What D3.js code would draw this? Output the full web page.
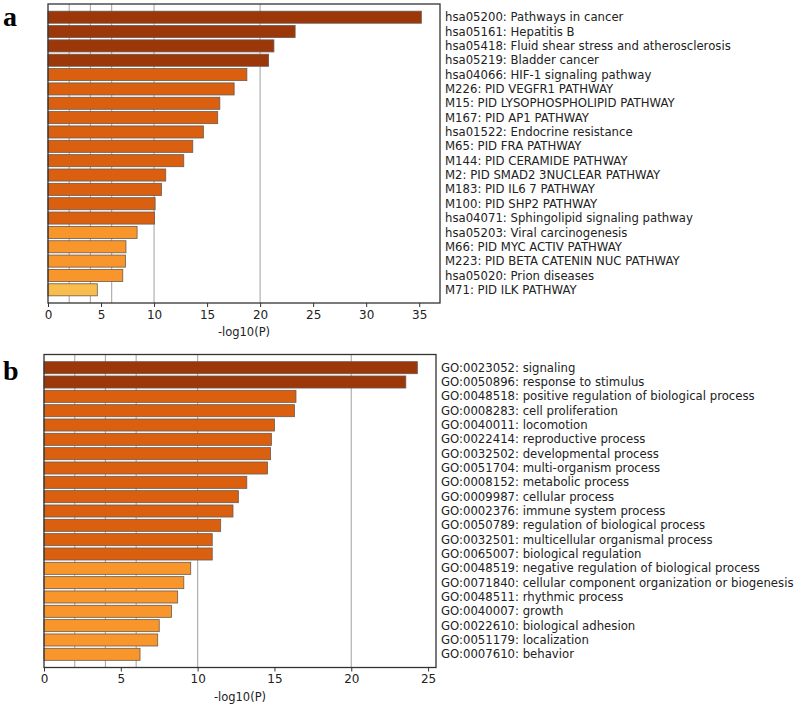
<!DOCTYPE html>
<html>
<head>
<meta charset="utf-8">
<script src="https://cdn.jsdelivr.net/npm/d3@7"></script>
<style>
  body { margin: 0; background: #fff; }
  svg { display: block; }
  text { font-family: "DejaVu Sans", sans-serif; fill: #222; }
  .panel-letter { font-family: "Liberation Serif", "Times New Roman", serif; font-weight: bold; fill: #000; }
</style>
</head>
<body>
<svg id="chart" width="800" height="711"></svg>
<script>
// パネルa: KEGG / PID パスウェイ
const termsA = [
  'hsa05200: Pathways in cancer',
  'hsa05161: Hepatitis B',
  'hsa05418: Fluid shear stress and atherosclerosis',
  'hsa05219: Bladder cancer',
  'hsa04066: HIF-1 signaling pathway',
  'M226: PID VEGFR1 PATHWAY',
  'M15: PID LYSOPHOSPHOLIPID PATHWAY',
  'M167: PID AP1 PATHWAY',
  'hsa01522: Endocrine resistance',
  'M65: PID FRA PATHWAY',
  'M144: PID CERAMIDE PATHWAY',
  'M2: PID SMAD2 3NUCLEAR PATHWAY',
  'M183: PID IL6 7 PATHWAY',
  'M100: PID SHP2 PATHWAY',
  'hsa04071: Sphingolipid signaling pathway',
  'hsa05203: Viral carcinogenesis',
  'M66: PID MYC ACTIV PATHWAY',
  'M223: PID BETA CATENIN NUC PATHWAY',
  'hsa05020: Prion diseases',
  'M71: PID ILK PATHWAY'
];
const valuesA = [35.2, 23.3, 21.3, 20.8, 18.75, 17.55, 16.2, 16.0, 14.65, 13.65,
                 12.8, 11.1, 10.7, 10.1, 10.05, 8.4, 7.35, 7.3, 7.05, 4.65];
const ticksA = [0, 5, 10, 15, 20, 25, 30, 35];

// パネルb: GO 生物学的プロセス
const termsB = [
  'GO:0023052: signaling',
  'GO:0050896: response to stimulus',
  'GO:0048518: positive regulation of biological process',
  'GO:0008283: cell proliferation',
  'GO:0040011: locomotion',
  'GO:0022414: reproductive process',
  'GO:0032502: developmental process',
  'GO:0051704: multi-organism process',
  'GO:0008152: metabolic process',
  'GO:0009987: cellular process',
  'GO:0002376: immune system process',
  'GO:0050789: regulation of biological process',
  'GO:0032501: multicellular organismal process',
  'GO:0065007: biological regulation',
  'GO:0048519: negative regulation of biological process',
  'GO:0071840: cellular component organization or biogenesis',
  'GO:0048511: rhythmic process',
  'GO:0040007: growth',
  'GO:0022610: biological adhesion',
  'GO:0051179: localization',
  'GO:0007610: behavior'
];
const valuesB = [24.3, 23.55, 16.4, 16.3, 15.0, 14.8, 14.75, 14.55, 13.2, 12.65,
                 12.3, 11.5, 10.95, 10.95, 9.55, 9.1, 8.7, 8.3, 7.5, 7.4, 6.25];
const ticksB = [0, 5, 10, 15, 20, 25];

// 縦のグリッド線の位置
const gridValues = [2, 4, 6, 10, 20];

// 値に応じた色（YlOrBr 系）
function barColor(v) {
  if (v >= 20) return '#9b3708';
  if (v >= 10) return '#da600f';
  if (v >= 6) return '#f8962b';
  return '#f9bd4e';
}

const svg = d3.select('#chart');

function drawPanel(terms, values, ticks, box, letter) {
  const g = svg.append('g');

  const x = d3.scaleLinear()
    .domain([0, d3.max(values) * 1.05])
    .range([box.left, box.right]);

  const y = d3.scaleBand()
    .domain(terms)
    .range([box.top, box.bottom])
    .paddingInner(0.16)
    .paddingOuter(0.5);

  // グリッド線
  g.selectAll('line.grid')
    .data(gridValues)
    .enter()
    .append('line')
    .attr('class', 'grid')
    .attr('x1', d => x(d))
    .attr('x2', d => x(d))
    .attr('y1', box.top)
    .attr('y2', box.bottom)
    .attr('stroke', '#b0b0b0')
    .attr('stroke-width', 1.2);

  // バー
  g.selectAll('rect.bar')
    .data(values)
    .enter()
    .append('rect')
    .attr('class', 'bar')
    .attr('x', x(0))
    .attr('y', (d, i) => y(terms[i]))
    .attr('width', d => x(d) - x(0))
    .attr('height', y.bandwidth())
    .attr('fill', d => barColor(d))
    .attr('stroke', '#6a5a50')
    .attr('stroke-width', 0.8);

  // 枠線
  g.append('rect')
    .attr('x', box.left)
    .attr('y', box.top)
    .attr('width', box.right - box.left)
    .attr('height', box.bottom - box.top)
    .attr('fill', 'none')
    .attr('stroke', '#333')
    .attr('stroke-width', 1.3);

  // X軸
  const axis = g.append('g')
    .attr('transform', `translate(0,${box.bottom})`)
    .call(d3.axisBottom(x).tickValues(ticks).tickSize(4).tickPadding(3));
  axis.select('.domain').remove();
  axis.selectAll('line').attr('stroke', '#333');
  axis.selectAll('text')
    .style('font-family', '"DejaVu Sans", sans-serif')
    .style('font-size', '12px')
    .attr('fill', '#222');

  // 軸タイトル
  g.append('text')
    .attr('x', (box.left + box.right) / 2)
    .attr('y', box.bottom + 33)
    .attr('text-anchor', 'middle')
    .style('font-size', '11.5px')
    .text('-log10(P)');

  // 右側のラベル
  g.selectAll('text.term')
    .data(terms)
    .enter()
    .append('text')
    .attr('class', 'term')
    .attr('x', box.right + 5)
    .attr('y', d => y(d) + y.bandwidth() / 2)
    .attr('dy', '0.35em')
    .style('font-size', '11.7px')
    .text(d => d);

  // パネル文字
  g.append('text')
    .attr('class', 'panel-letter')
    .attr('x', 3)
    .attr('y', box.top + letter.dy)
    .style('font-size', '28px')
    .text(letter.text);
}

drawPanel(termsA, valuesA, ticksA, { left: 48, top: 4, right: 440, bottom: 303 }, { text: 'a', dy: 22 });
drawPanel(termsB, valuesB, ticksB, { left: 44, top: 354.5, right: 436, bottom: 667.5 }, { text: 'b', dy: 25 });
</script>
</body>
</html>
